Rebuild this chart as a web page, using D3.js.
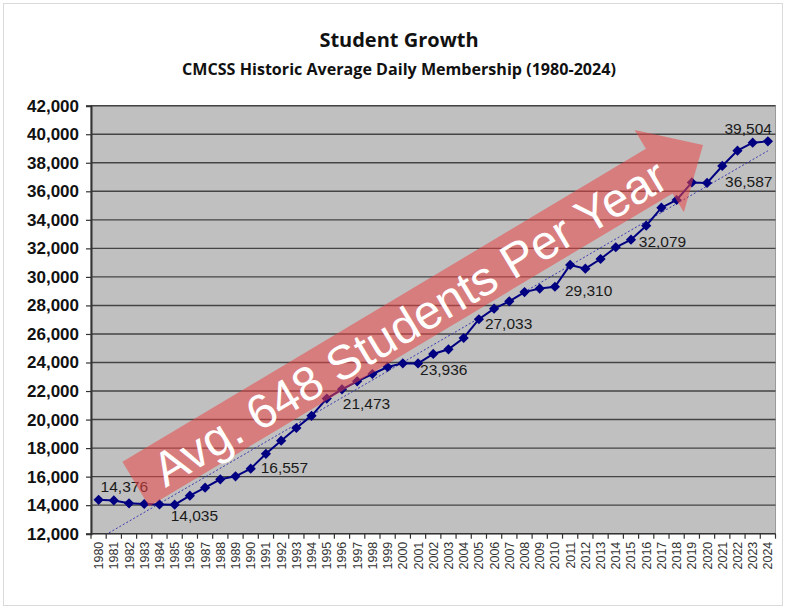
<!DOCTYPE html>
<html>
<head>
<meta charset="utf-8">
<script src="https://cdn.jsdelivr.net/npm/d3@7"></script>
<style>
  html, body { margin: 0; padding: 0; background: #ffffff; }
  svg { display: block; }
</style>
</head>
<body>
<script>
// Average daily membership, one value per school year
const years = [1980,1981,1982,1983,1984,1985,1986,1987,1988,1989,
               1990,1991,1992,1993,1994,1995,1996,1997,1998,1999,
               2000,2001,2002,2003,2004,2005,2006,2007,2008,2009,
               2010,2011,2012,2013,2014,2015,2016,2017,2018,2019,
               2020,2021,2022,2023,2024];
const membership = [14376,14330,14130,14080,14050,14035,14664,15225,15813,16024,
                    16557,17600,18520,19409,20260,21473,22122,22683,23195,23686,
                    23944,23936,24598,24925,25717,27033,27773,28291,28935,29180,
                    29310,30836,30577,31256,32079,32608,33590,34851,35391,36620,
                    36587,37776,38848,39409,39504];
// Years that carry a value label
const labelledYears = [1980,1985,1990,1995,2001,2005,2010,2014,2020,2024];
// Y axis ticks
const yTicks = [12000,14000,16000,18000,20000,22000,24000,26000,28000,30000,
                32000,34000,36000,38000,40000,42000];

const titleText = "Student Growth";
const subtitleText = "CMCSS Historic Average Daily Membership (1980-2024)";
const arrowText = "Avg. 648 Students Per Year";

// Label placement relative to each labelled point (pixels)
const labelOffsets = [
  {dx: 2, dy: -13, anchor: "start"},
  {dx: -4, dy: 11, anchor: "start"},
  {dx: 10, dy: -1, anchor: "start"},
  {dx: 16, dy: 5, anchor: "start"},
  {dx: 2, dy: 6, anchor: "start"},
  {dx: 6, dy: 4, anchor: "start"},
  {dx: 10, dy: 4, anchor: "start"},
  {dx: 23, dy: -6, anchor: "start"},
  {dx: 18, dy: -1, anchor: "start"},
  {dx: 4, dy: -13, anchor: "end"}
];

const W = 786, H = 609;
const plot = {left: 91, right: 775.5, top: 105.7, bottom: 533.7};

const svg = d3.select("body").append("svg")
  .attr("width", W).attr("height", H);

svg.append("rect").attr("x", 0).attr("y", 0).attr("width", W).attr("height", H)
  .attr("fill", "#ffffff");
svg.append("rect").attr("x", 3.5).attr("y", 3.5).attr("width", W - 7).attr("height", H - 7)
  .attr("fill", "none").attr("stroke", "#dadada").attr("stroke-width", 1);

const x = d3.scaleBand().domain(years).range([plot.left, plot.right]).paddingInner(0).paddingOuter(0);
const bw = x.bandwidth();
const xc = yr => x(yr) + bw / 2;
const y = d3.scaleLinear().domain([12000, 42000]).range([plot.bottom, plot.top]);

// Titles
svg.append("text").attr("x", 399).attr("y", 47).attr("text-anchor", "middle")
  .attr("font-family", "'Open Sans', 'Liberation Sans', sans-serif")
  .attr("font-weight", "bold").attr("font-size", 20).attr("fill", "#111")
  .text(titleText);
svg.append("text").attr("x", 399).attr("y", 75).attr("text-anchor", "middle")
  .attr("font-family", "'Open Sans', 'Liberation Sans', sans-serif")
  .attr("font-weight", "bold").attr("font-size", 16.1).attr("fill", "#111")
  .text(subtitleText);

// Plot background
svg.append("rect").attr("x", plot.left).attr("y", plot.top)
  .attr("width", plot.right - plot.left).attr("height", plot.bottom - plot.top)
  .attr("fill", "#c0c0c0").attr("stroke", "#9a9a9a").attr("stroke-width", 1);

// Horizontal gridlines
svg.append("g").selectAll("line").data(yTicks.slice(1)).join("line")
  .attr("x1", plot.left).attr("x2", plot.right)
  .attr("y1", d => y(d)).attr("y2", d => y(d))
  .attr("stroke", "#444").attr("stroke-width", 1.4);

// Y axis
const yAxis = d3.axisLeft(y).tickValues(yTicks).tickSize(5).tickPadding(7)
  .tickFormat(d3.format(","));
const gy = svg.append("g").attr("transform", `translate(${plot.left},0)`).call(yAxis);
gy.select(".domain").attr("stroke", "#333").attr("stroke-width", 2);
gy.selectAll(".tick line").attr("stroke", "#333").attr("stroke-width", 1.2);
gy.selectAll(".tick text").attr("font-family", "'Liberation Sans', Arial, sans-serif")
  .attr("font-weight", "bold").attr("font-size", 17).attr("fill", "#111");

// X axis line and ticks between categories
svg.append("line").attr("x1", plot.left).attr("x2", plot.right)
  .attr("y1", plot.bottom).attr("y2", plot.bottom)
  .attr("stroke", "#333").attr("stroke-width", 1.5);
svg.append("g").selectAll("line").data(years.concat([null])).join("line")
  .attr("x1", (d, i) => i < years.length ? x(d) : plot.right)
  .attr("x2", (d, i) => i < years.length ? x(d) : plot.right)
  .attr("y1", plot.bottom).attr("y2", plot.bottom + 5)
  .attr("stroke", "#333").attr("stroke-width", 1.2);

// X tick labels, rotated
svg.append("g").selectAll("text").data(years).join("text")
  .attr("transform", d => `translate(${xc(d) + 4.5},${plot.bottom + 8}) rotate(-90)`)
  .attr("text-anchor", "end")
  .attr("font-family", "'Liberation Sans', Arial, sans-serif")
  .attr("font-size", 12.5).attr("fill", "#333")
  .text(d => d);

// Clip for plot contents
svg.append("defs").append("clipPath").attr("id", "plotClip")
  .append("rect").attr("x", plot.left).attr("y", plot.top)
  .attr("width", plot.right - plot.left).attr("height", plot.bottom - plot.top);

// Linear trend line (least squares over the series)
const n = years.length;
const idx = d3.range(n);
const mx = d3.mean(idx), my = d3.mean(membership);
const slope = d3.sum(idx, i => (i - mx) * (membership[i] - my)) / d3.sum(idx, i => (i - mx) * (i - mx));
const intercept = my - slope * mx;
svg.append("line").attr("clip-path", "url(#plotClip)")
  .attr("x1", xc(years[0])).attr("y1", y(intercept))
  .attr("x2", xc(years[n - 1])).attr("y2", y(intercept + slope * (n - 1)))
  .attr("stroke", "#3b3bb0").attr("stroke-width", 1).attr("stroke-dasharray", "2,2");

// Series line
const data = years.map((yr, i) => ({year: yr, value: membership[i]}));
svg.append("path").datum(data)
  .attr("fill", "none").attr("stroke", "#000080").attr("stroke-width", 2)
  .attr("d", d3.line().x(d => xc(d.year)).y(d => y(d.value)));

// Diamond markers
svg.append("g").selectAll("path").data(data).join("path")
  .attr("transform", d => `translate(${xc(d.year)},${y(d.value)}) rotate(45)`)
  .attr("d", d3.symbol(d3.symbolSquare, 52)())
  .attr("fill", "#000080");

// Value labels
svg.append("g").selectAll("text").data(labelledYears).join("text")
  .attr("x", (d, i) => xc(d) + labelOffsets[i].dx)
  .attr("y", (d, i) => y(membership[years.indexOf(d)]) + labelOffsets[i].dy)
  .attr("dominant-baseline", "central")
  .attr("text-anchor", (d, i) => labelOffsets[i].anchor)
  .attr("font-family", "'Liberation Sans', Arial, sans-serif")
  .attr("font-size", 15.5).attr("fill", "#1a1a1a")
  .text(d => d3.format(",")(membership[years.indexOf(d)]));

// Growth arrow annotation
const tail = {x: 135.8, y: 484.1}, tip = {x: 703, y: 145};
const ang = Math.atan2(tip.y - tail.y, tip.x - tail.x) * 180 / Math.PI;
const len = Math.hypot(tip.x - tail.x, tip.y - tail.y);
const headLen = 51, shaftHalf = 26, headHalf = 48;
const arrow = svg.append("g").attr("transform", `translate(${tail.x},${tail.y}) rotate(${ang})`);
arrow.append("path")
  .attr("d", `M0,${-shaftHalf} L${len - headLen},${-shaftHalf} L${len - headLen},${-headHalf} L${len},0 L${len - headLen},${headHalf} L${len - headLen},${shaftHalf} L0,${shaftHalf} Z`)
  .attr("fill", "rgb(235,70,70)").attr("fill-opacity", 0.55);
arrow.append("text").attr("x", 318).attr("y", 2)
  .attr("text-anchor", "middle").attr("dominant-baseline", "central")
  .attr("font-family", "'Liberation Sans', Arial, sans-serif")
  .attr("font-size", 48).attr("fill", "#ffffff")
  .text(arrowText);
</script>
</body>
</html>
